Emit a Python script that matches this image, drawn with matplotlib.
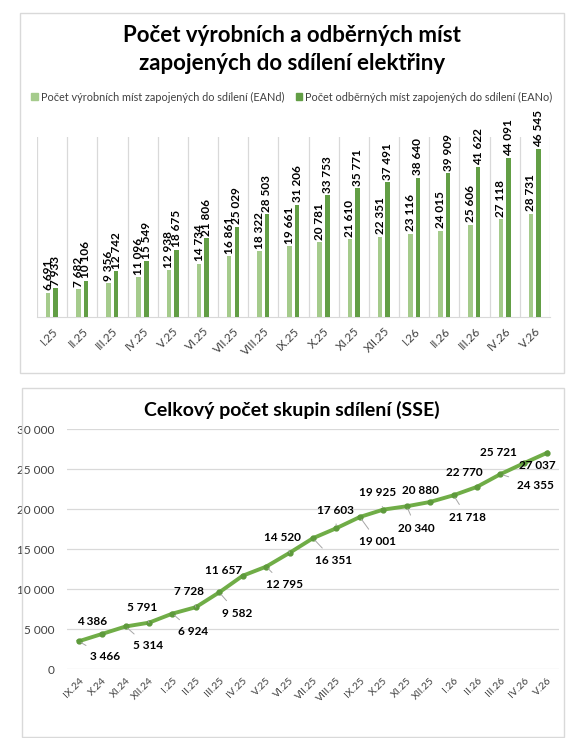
import matplotlib
matplotlib.use("Agg")
import matplotlib.pyplot as plt
import matplotlib.patches as mpatches
from matplotlib.ticker import FuncFormatter

plt.rcParams['font.family'] = ['Lato', 'DejaVu Sans']

# data - top chart
months_bar = ["I.25", "II.25", "III.25", "IV.25", "V.25", "VI.25", "VII.25", "VIII.25",
              "IX.25", "X.25", "XI.25", "XII.25", "I.26", "II.26", "III.26", "IV.26", "V.26"]
ean_d = [6691, 7682, 9356, 11096, 12938, 14734, 16861, 18322, 19661,
         20781, 21610, 22351, 23116, 24015, 25606, 27118, 28731]
ean_o = [7933, 10106, 12742, 15549, 18675, 21806, 25029, 28503, 31206,
         33753, 35771, 37491, 38640, 39909, 41622, 44091, 46545]

# data - bottom chart
months_line = ["IX.24", "X.24", "XI.24", "XII.24", "I.25", "II.25", "III.25", "IV.25",
               "V.25", "VI.25", "VII.25", "VIII.25", "IX.25", "X.25", "XI.25", "XII.25",
               "I.26", "II.26", "III.26", "IV.26", "V.26"]
sse = [3466, 4386, 5314, 5791, 6924, 7728, 9582, 11657, 12795, 14520, 16351, 17603,
       19001, 19925, 20340, 20880, 21718, 22770, 24355, 25721, 27037]

# label offsets in points (layout only)
lab_off = [(19, -11), (-7, 9), (16, -14), (-5, 11), (15, -13), (-5, 11), (13, -15),
           (-14, 4), (13, -13), (-5, 11), (15, -16), (-1, 13), (13, -18), (-4, 12),
           (7, -16), (-7, 8), (10, -16), (-9, 10), (25, -8), (-18, 8), (-7, -9)]
leader = [True, False, True, True, True, True, True, False, True, True, True, True,
          True, True, True, False, True, False, True, False, False]

LIGHT = "#A5CB8C"
DARK = "#629E45"
LINE = "#70AD47"
GRID = "#D9D9D9"
TXT = "#404040"

def fmt(v):
    return f"{int(v):,}".replace(",", " ")

fig = plt.figure(figsize=(5.8, 7.38), dpi=100)
W, H = 580, 738

def fbox(x0, y0, x1, y1):
    return [x0 / W, 1 - y1 / H, (x1 - x0) / W, (y1 - y0) / H]

# panel borders
for b in [(20, 13, 564, 373), (22, 388, 564, 737)]:
    r = fbox(*b)
    fig.patches.append(mpatches.Rectangle((r[0], r[1]), r[2], r[3], transform=fig.transFigure,
                                          fill=False, edgecolor=GRID, lw=1))

# ---------- top bar chart ----------
ax1 = fig.add_axes(fbox(37, 137, 550, 317))
x = list(range(len(months_bar)))
w = 0.15
xd = [i - 0.13 for i in x]
xo = [i + 0.12 for i in x]
ax1.bar(xd, ean_d, width=w, color=LIGHT, zorder=3)
ax1.bar(xo, ean_o, width=w, color=DARK, zorder=3)
for xi, v in zip(xd, ean_d):
    ax1.text(xi, v + 700, fmt(v), rotation=90, ha='center', va='bottom',
             fontsize=8.5, fontweight='bold', color='black')
for xi, v in zip(xo, ean_o):
    ax1.text(xi, v + 700, fmt(v), rotation=90, ha='center', va='bottom',
             fontsize=8.5, fontweight='bold', color='black')
ax1.set_xlim(-0.5, len(months_bar) - 0.5)
ax1.set_ylim(0, 50000)
for i in range(len(months_bar) + 1):
    ax1.axvline(i - 0.5, color=GRID, lw=0.9, zorder=1)
ax1.set_yticks([])
ax1.set_xticks(x)
ax1.set_xticklabels(months_bar, rotation=45, ha='right', rotation_mode='anchor',
                    fontsize=8.5, color=TXT)
ax1.tick_params(axis='x', length=0, pad=6)
for s in ['top', 'right', 'left']:
    ax1.spines[s].set_visible(False)
ax1.spines['bottom'].set_color(GRID)
ax1.patch.set_alpha(0)

fig.text(292 / W, 1 - 36 / H, "Počet výrobních a odběrných míst", ha='center', va='center',
         fontsize=16, fontweight='bold')
fig.text(292 / W, 1 - 63 / H, "zapojených do sdílení elektřiny", ha='center', va='center',
         fontsize=16, fontweight='bold')
handles = [mpatches.Patch(color=LIGHT, label="Počet výrobních míst zapojených do sdílení (EANd)"),
           mpatches.Patch(color=DARK, label="Počet odběrných míst zapojených do sdílení (EANo)")]
fig.legend(handles=handles, loc='center', bbox_to_anchor=(292 / W, 1 - 97 / H), ncol=2,
           frameon=False, fontsize=7.8, handlelength=0.6, handleheight=0.6, handletextpad=0.3,
           columnspacing=1.0, labelcolor=TXT)

# ---------- bottom line chart ----------
ax2 = fig.add_axes(fbox(67, 429, 559, 669))
xl = list(range(len(months_line)))
ax2.plot(xl, sse, color=LINE, lw=2.8, zorder=3, marker='o', markersize=3.5,
         markerfacecolor="#5E9A3C", markeredgecolor="#5E9A3C")
for xi, v, off, ld in zip(xl, sse, lab_off, leader):
    ap = dict(arrowstyle='-', color='#A6A6A6', lw=0.7, shrinkA=4, shrinkB=2) if ld else None
    ax2.annotate(fmt(v), (xi, v), xytext=off, textcoords='offset points',
                 ha='center', va='center', fontsize=8.5, fontweight='bold',
                 arrowprops=ap, zorder=4)
ax2.set_xlim(-0.5, len(months_line) - 0.5)
ax2.set_ylim(0, 30000)
ax2.set_yticks(range(0, 30001, 5000))
ax2.yaxis.set_major_formatter(FuncFormatter(lambda v, p: fmt(v)))
ax2.grid(axis='y', color=GRID, lw=0.9, zorder=0)
ax2.set_xticks(xl)
ax2.set_xticklabels(months_line, rotation=45, ha='right', rotation_mode='anchor',
                    fontsize=7.5, color=TXT)
ax2.tick_params(axis='both', length=0)
ax2.tick_params(axis='y', labelsize=8.5, labelcolor=TXT, pad=9)
ax2.tick_params(axis='x', pad=5)
for s in ['top', 'right', 'left', 'bottom']:
    ax2.spines[s].set_visible(False)
ax2.patch.set_alpha(0)

fig.text(292 / W, 1 - 410 / H, "Celkový počet skupin sdílení (SSE)", ha='center', va='center',
         fontsize=14, fontweight='bold')

fig.savefig("out.png", dpi=100)
